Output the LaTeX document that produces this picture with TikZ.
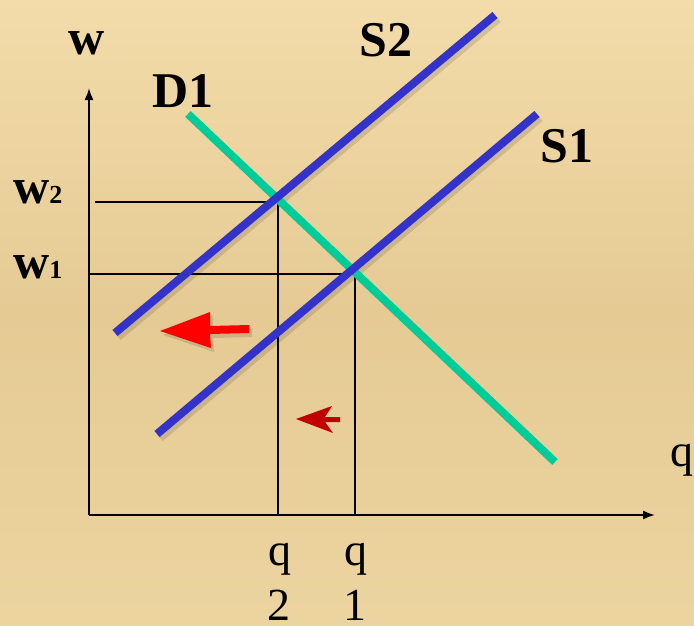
\documentclass[tikz,border=0pt]{standalone}
\usepackage{fontspec}
\setmainfont{Liberation Serif}
\usetikzlibrary{arrows.meta}
\definecolor{bgcol}{RGB}{236,212,160}
\definecolor{bglight}{RGB}{243,220,170}
\definecolor{bgdark}{RGB}{229,202,148}
\definecolor{supblue}{RGB}{51,51,204}
\definecolor{demgreen}{RGB}{0,204,153}
\definecolor{bigred}{RGB}{255,0,0}
\definecolor{smallred}{RGB}{192,0,0}
\tikzset{
  axisline/.style={line width=1.8pt, -{Latex[length=12pt,width=9pt]}},
  guide/.style={line width=1.8pt},
  supply/.style={line width=8pt, draw=supblue},
  demand/.style={line width=8pt, draw=demgreen},
  shadowline/.style={line width=8pt, draw=black, opacity=0.12},
  biglabel/.style={font=\fontsize{50}{60}\selectfont\bfseries, inner sep=0pt},
  qlabel/.style={font=\fontsize{46}{54}\selectfont, inner sep=0pt},
  wlabel/.style={font=\fontsize{50}{60}\selectfont\bfseries, inner sep=0pt, anchor=base west}
}
\newcommand{\smallsub}[1]{{\fontsize{26}{30}\selectfont #1}}
\begin{document}
\begin{tikzpicture}[x=1pt,y=-1pt]
% background
\shade[top color=bglight, bottom color=bgcol, middle color=bgdark] (0,0) rectangle (694,625);
\useasboundingbox (0,0) rectangle (694,625);

% coordinates
\coordinate (O) at (89,515);
\coordinate (ytip) at (89,88);
\coordinate (xtip) at (655,515);
\coordinate (w2s) at (95,202);
\coordinate (e2) at (278,202);
\coordinate (q2b) at (278,515);
\coordinate (w1s) at (89,274);
\coordinate (e1) at (355,274);
\coordinate (q1b) at (355,515);
\coordinate (d1a) at (188,114);
\coordinate (d1b) at (555,462);
\coordinate (s2a) at (115,333);
\coordinate (s2b) at (495,15);
\coordinate (s1a) at (157,434);
\coordinate (s1b) at (537,114);

% axes and guides
\draw[axisline] (O) -- (ytip);
\draw[axisline] (O) -- (xtip);
\draw[guide] (w2s) -- (e2) -- (q2b);
\draw[guide] (w1s) -- (e1) -- (q1b);

% shadows
\draw[shadowline] ([shift={(3,4)}]s2a) -- ([shift={(3,4)}]s2b);
\draw[shadowline] ([shift={(3,4)}]s1a) -- ([shift={(3,4)}]s1b);

% curves
\draw[demand] (d1a) -- (d1b);
\draw[supply] (s2a) -- (s2b);
\draw[supply] (s1a) -- (s1b);

% arrows
\fill[black, opacity=0.12] (252,329) -- (213,330) -- (213,316) -- (163,335) -- (214,352) -- (213,338) -- (252,337) -- cycle;
\fill[bigred] (249,325) -- (210,326) -- (210,312) -- (160,331) -- (211,348) -- (210,334) -- (249,333) -- cycle;
\fill[smallred] (340,417) -- (325,417) -- (332,406) -- (296,419) -- (333,433) -- (325,422) -- (340,422) -- cycle;

% labels
\node[biglabel] (lw) at (86.5,43) {w};
\node[biglabel] (lD1) at (183,91) {D1};
\node[biglabel] (lS2) at (386,40.5) {S2};
\node[biglabel] (lS1) at (567,146.5) {S1};
\node[wlabel] (lw2) at (13,203) {w\smallsub{2}};
\node[wlabel] (lw1) at (13,278) {w\smallsub{1}};
\node[qlabel, anchor=base] (lq2) at (280,565) {q};
\node[qlabel, anchor=base] (l2) at (279,620) {2};
\node[qlabel, anchor=base] (lq1) at (356,565) {q};
\node[qlabel, anchor=base] (l1) at (355,620) {1};
\node[qlabel, anchor=base west] (lq) at (670,466) {q};
\end{tikzpicture}
\end{document}
